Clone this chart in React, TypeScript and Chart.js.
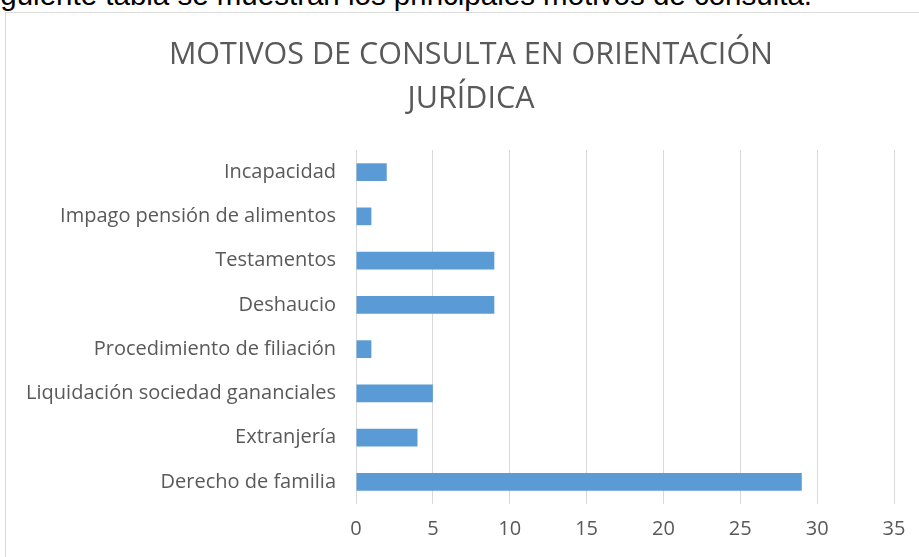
import React, { useEffect, useRef } from "react";
import { Chart, registerables } from "chart.js";

Chart.register(...registerables);

const categories = [
  "Incapacidad",
  "Impago pensión de alimentos",
  "Testamentos",
  "Deshaucio",
  "Procedimiento de filiación",
  "Liquidación sociedad gananciales",
  "Extranjería",
  "Derecho de familia",
];
const values = [2, 1, 9, 9, 1, 5, 4, 29];
const titleLines = ["MOTIVOS DE CONSULTA EN ORIENTACIÓN", "JURÍDICA"];
const introText = "siguiente tabla se muestran los principales motivos de consulta.";
const xMin = 0;
const xMax = 35;
const xStep = 5;

const FONT = "'Open Sans', Lato, sans-serif";

export default function App() {
  const ref = useRef<HTMLCanvasElement | null>(null);

  useEffect(() => {
    if (!ref.current) return;
    const chart = new Chart(ref.current, {
      type: "bar",
      data: {
        labels: categories,
        datasets: [
          {
            data: values,
            backgroundColor: "#5b9bd5",
            borderWidth: 0,
            categoryPercentage: 1,
            barPercentage: 0.4,
            yAxisID: "y",
          },
        ],
      },
      options: {
        indexAxis: "y",
        animation: false,
        responsive: false,
        maintainAspectRatio: false,
        layout: { padding: { top: 0, right: 0, bottom: 19, left: 0 } },
        plugins: {
          legend: { display: false },
          tooltip: { enabled: false },
          title: {
            display: true,
            text: titleLines,
            color: "#595959",
            font: { family: FONT, size: 30.5, weight: "normal", lineHeight: "44px" },
            padding: { top: 20, bottom: 29 },
          },
        },
        scales: {
          x: {
            min: xMin,
            max: xMax,
            ticks: {
              stepSize: xStep,
              color: "#595959",
              font: { family: FONT, size: 20 },
              padding: 13,
            },
            grid: { color: "#d9d9d9", lineWidth: 1, drawTicks: false },
            border: { display: false },
            afterFit: (s: any) => {
              s.height = 34;
            },
          },
          y: {
            position: "left",
            ticks: {
              color: "#595959",
              font: { family: FONT, size: 20 },
              padding: 20,
            },
            grid: { display: false, drawTicks: false },
            border: { display: false },
            afterFit: (s: any) => {
              s.width = 350;
            },
          },
          yRight: {
            type: "category",
            position: "right",
            labels: categories,
            ticks: { display: false },
            grid: { display: false, drawTicks: false },
            border: { display: false },
            afterFit: (s: any) => {
              s.width = 42;
            },
          },
        },
      },
    });
    return () => chart.destroy();
  }, []);

  return (
    <div
      style={{
        position: "absolute",
        left: 0,
        top: 0,
        width: 919,
        height: 557,
        overflow: "hidden",
        background: "#fff",
      }}
    >
      <div
        style={{
          position: "absolute",
          left: -21,
          top: -22,
          whiteSpace: "nowrap",
          fontFamily: "'Liberation Sans', Arial, sans-serif",
          fontSize: 29.5,
          lineHeight: "34px",
          color: "#000",
        }}
      >
        {introText}
      </div>
      <div
        style={{
          position: "absolute",
          left: 5,
          top: 12,
          width: 930,
          height: 560,
          borderTop: "1px solid #d9d9d9",
          borderLeft: "1px solid #d9d9d9",
          background: "#fff",
        }}
      >
        <canvas ref={ref} width={930} height={544} style={{ display: "block" }} />
      </div>
    </div>
  );
}
